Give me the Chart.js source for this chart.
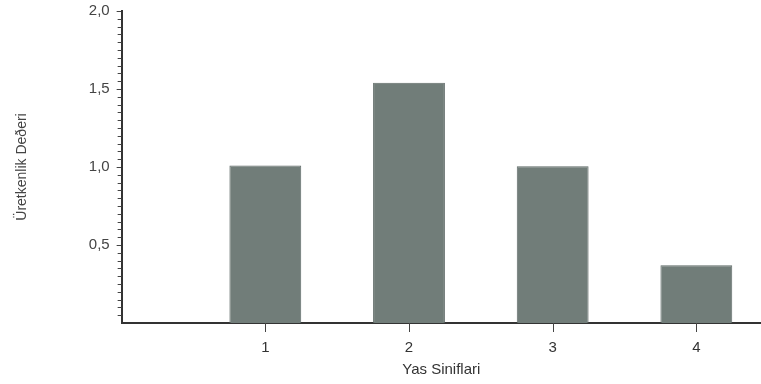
<!DOCTYPE html>
<html>
<head>
<meta charset="utf-8">
<script src="https://cdn.jsdelivr.net/npm/chart.js@4.4.0/dist/chart.umd.min.js"></script>
<style>
  body { margin: 0; background: #fff; }
  #wrap { width: 761px; height: 384px; }
</style>
</head>
<body>
<div id="wrap"><canvas id="barChart"></canvas></div>
<script>
const classes = [1, 2, 3, 4];
const values = [1.01, 1.54, 1.005, 0.37];
const yTicks = [0.5, 1.0, 1.5, 2.0];

// minor ticks on the y axis every 0.05, and tick marks under the classes
const axisTicks = {
  id: "axisTicks",
  afterDraw(chart) {
    const xs = chart.scales.x;
    const ys = chart.scales.y;
    const area = chart.chartArea;
    const ctx = chart.ctx;
    ctx.save();
    ctx.fillStyle = "#444";
    for (let i = 1; i < 40; i++) {
      if (i % 10 === 0) continue;
      const py = Math.round(ys.getPixelForValue(i * 0.05));
      ctx.fillRect(area.left - 4, py, 4, 1);
    }
    for (let i = 0; i < classes.length; i++) {
      const px = Math.round(xs.getPixelForValue(classes[i]));
      ctx.fillRect(px, area.bottom, 1, 9);
    }
    ctx.restore();
  }
};

const CHART = document.getElementById("barChart");
let barChart = new Chart(CHART, {
  type: "bar",
  data: {
    datasets: [
      {
        data: classes.map((c, i) => ({ x: c, y: values[i] })),
        backgroundColor: "#717d79",
        borderColor: "#5f6a67",
        borderWidth: 1,
        barPercentage: 0.5,
        categoryPercentage: 1.0,
      },
    ],
  },
  options: {
    responsive: true,
    maintainAspectRatio: false,
    animation: false,
    layout: { padding: { top: 0, right: 0, left: 14, bottom: 5 } },
    plugins: { legend: { display: false }, tooltip: { enabled: false } },
    scales: {
      x: {
        type: "linear",
        min: 0,
        max: 4.45,
        offset: false,
        afterBuildTicks: (scale) => {
          scale.ticks = classes.map((v) => ({ value: v }));
        },
        grid: {
          offset: false,
          drawOnChartArea: false,
          tickLength: 8,
          color: "rgba(0,0,0,0)",
        },
        border: { color: "#333", width: 2 },
        ticks: {
          color: "#333",
          font: { family: "Liberation Sans", size: 15 },
          padding: 8,
        },
        title: {
          display: true,
          text: "Yas Siniflari",
          color: "#333",
          font: { family: "Liberation Sans", size: 15 },
          padding: { top: -4, bottom: 0 },
        },
      },
      y: {
        min: 0,
        max: 2,
        afterBuildTicks: (scale) => {
          scale.ticks = yTicks.map((v) => ({ value: v }));
        },
        afterFit: (scale) => {
          scale.paddingTop = 11;
        },
        grid: { drawOnChartArea: false, tickLength: 5, color: "#444" },
        border: { color: "#333", width: 2 },
        ticks: {
          color: "#444",
          font: { family: "Liberation Sans", size: 15 },
          padding: 7,
          callback: (v) => v.toFixed(1).replace(".", ","),
        },
        title: {
          display: true,
          text: "Üretkenlik Deðeri",
          color: "#444",
          font: { family: "Liberation Sans", size: 14 },
          padding: { top: 0, bottom: 51 },
        },
      },
    },
  },
  plugins: [axisTicks],
});
</script>
</body>
</html>
